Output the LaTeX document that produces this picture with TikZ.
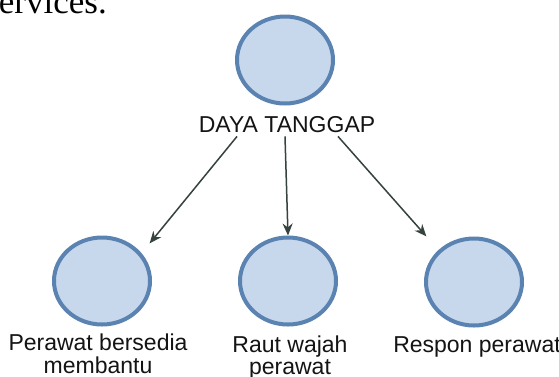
\documentclass[tikz,border=0pt]{standalone}
\usepackage{fontspec}
\setmainfont{Liberation Sans}
\newfontfamily\serifpart{Liberation Serif}
\usetikzlibrary{arrows.meta,shapes.geometric}
\definecolor{ringblue}{HTML}{5B83B1}
\definecolor{innerblue}{HTML}{9DB8DC}
\definecolor{fillblue}{HTML}{C7D7EC}
\definecolor{arrowgrey}{HTML}{35423D}
\definecolor{txtgrey}{HTML}{141414}
\tikzset{
  bubble/.style={ellipse, draw=ringblue, fill=fillblue, line width=4pt,
    minimum width=96pt, minimum height=87pt, inner sep=0pt},
  lbl/.style={font=\fontsize{23}{22}\selectfont, text=txtgrey, inner sep=0pt, anchor=base},
  arr/.style={draw=arrowgrey, line width=1.5pt, -{Stealth[length=12pt,width=10pt]}}
}
\newcommand{\twoline}[2]{\begin{tabular}[t]{@{}c@{}}#1\\#2\end{tabular}}
\begin{document}
\begin{tikzpicture}[x=1pt,y=-1pt]
\useasboundingbox (0,0) rectangle (559,376);
\clip (0,0) rectangle (559,376);
\fill[white] (0,0) rectangle (559,376);
% cropped document text at the top
\node[anchor=base east, inner sep=0pt, font=\serifpart\fontsize{35}{40}\selectfont] (doc) at (107,13) {services.};
% circles
\node[bubble] (top) at (285,60) {};
\node[bubble] (c1) at (102,281) {};
\node[bubble] (c2) at (288,281) {};
\node[bubble] (c3) at (474,282) {};
% labels
\node[lbl] (daya) at (287,132) {DAYA TANGGAP};
\node[lbl] (l1) at (98,350) {\twoline{Perawat bersedia}{membantu}};
\node[lbl] (l2) at (290,352) {\twoline{Raut wajah}{perawat}};
\node[lbl] (l3) at (477,352) {Respon perawat};
% connectors
\draw[arr] ([xshift=-50pt,yshift=-4pt]daya.south) -- ([xshift=14pt,yshift=4pt]c1.45);
\draw[arr] ([xshift=-2pt,yshift=-4pt]daya.south) -- (c2.north);
\draw[arr] ([xshift=51pt,yshift=-4pt]daya.south) -- ([xshift=-14pt,yshift=12pt]c3.135);
\end{tikzpicture}
\end{document}
